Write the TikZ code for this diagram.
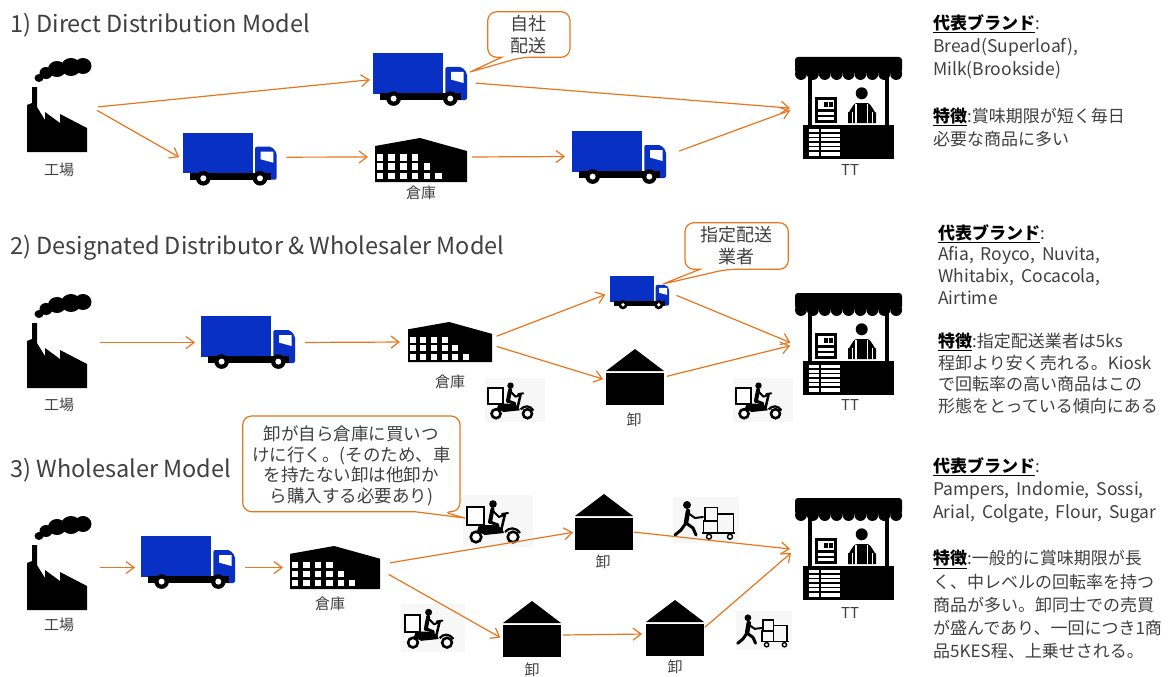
\documentclass[tikz,border=0pt]{standalone}
\usepackage{fontspec}
\setmainfont{Noto Sans CJK JP}
\usetikzlibrary{arrows.meta}
\definecolor{orangeline}{RGB}{232,118,30}
\definecolor{truckblue}{RGB}{8,48,196}
\definecolor{txt}{RGB}{64,64,64}
% Latin-only lines of the notes: a touch larger, with wider word spaces
\newcommand{\latline}[1]{{\fontsize{17.5}{21}\selectfont\spaceskip=0.4em plus 0.1em\relax #1}}

\tikzset{
  % factory with smoking chimney
  factory/.pic={
    \fill (12,21) ellipse (4.5 and 4);
    \fill (19,16) ellipse (6.5 and 6);
    \fill (30,12) ellipse (9 and 8);
    \fill (44,10) ellipse (10 and 9);
    \fill (56,9) ellipse (8.5 and 8);
    \fill (0,48) -- (5,46) -- (5,30) -- (10,30) -- (10,50) -- (18,63) -- (18,55)
          -- (33,66) -- (33,57) -- (60,71) -- (60,95) -- (0,95) -- cycle;
  },
  % blue box truck
  truck/.pic={
    \fill[truckblue] (0,0) rectangle (70,40.6);
    \fill[truckblue, rounded corners=2pt] (72.3,14) -- (89,14) -- (94,20) -- (94,47) -- (72.3,47) -- cycle;
    \fill[white] (78,19) -- (90.6,19) -- (90.6,30) -- (78,26.6) -- cycle;
    \fill (7,40) rectangle (88,47);
    \foreach \wx in {20.6,77.3} {
      \fill (\wx,45.6) circle (7.3);
      \fill[white] (\wx,45.6) circle (3);
    }
  },
  % warehouse with window grid
  warehouse/.pic={
    \fill (0,8) -- (45,0) -- (92,13) -- (92,44) -- (0,44) -- cycle;
    \foreach \r/\n in {0/4,1/5,2/6}
      \foreach \c in {1,...,\n}
        \fill[white] ({1.7+11.7*(\c-1)},{16+9.3*\r}) rectangle +(6.6,6.6);
  },
  % wholesaler house
  house/.pic={
    \fill (0,22) -- (29,0) -- (58,22) -- cycle;
    \fill (0,24) rectangle (58,56);
  },
  % kiosk stall with shopkeeper
  kiosk/.pic={
    \fill[rounded corners=3pt] (0,0) rectangle (107,16);
    \foreach \i in {0,...,8} \fill ({5.95+11.9*\i},17) circle (5.95);
    \fill (13,20) rectangle (17,68);
    \fill (90,20) rectangle (94,68);
    \fill (8,68) rectangle (99,102);
    \fill[white] (14,71.5) rectangle (45,98.5);
    \foreach \yy in {75,79.5,84,88.5,93} \fill (14,\yy) rectangle (45,\yy+1.8);
    \fill (24,71.5) rectangle (25.5,98.5);
    \fill (20,40) rectangle (42,66);
    \fill[white] (23,43) rectangle (39,52);
    \fill (29,45) rectangle (32.5,50);
    \fill (34,45) rectangle (37.5,50);
    \fill[white] (23,55) rectangle (39,57.5);
    \fill[white] (23,60) rectangle (39,63);
    \fill (66.7,36.3) circle (6);
    \fill (53,66) -- (53,55) to[out=-90,in=180] (62,46) -- (72,46) to[out=0,in=-90] (81,55) -- (81,66) -- cycle;
    \draw[white, line width=1.2pt] (61,47) -- (61,66) (72.5,47) -- (72.5,66);
    \draw[white, line width=0.8pt] (57,55) -- (57,66) (77,55) -- (77,66);
  },
  % delivery motorbike
  motorbike/.pic={
    \fill[gray!6] (0,0) rectangle (70,52);
    \draw[line width=2pt, fill=white] (4,12) rectangle (21,30);
    \fill (30,9) circle (3.8);
    \draw[line width=4pt, line cap=round] (29.5,14) -- (27,27);
    \draw[line width=2pt, line cap=round, line join=round] (30,16) -- (36,22) -- (41,20);
    \draw[line width=3pt, line cap=round, line join=round] (27,27) -- (35,30) -- (34,37);
    \fill (16,30) -- (31,30) -- (39,33) -- (41,38) -- (22,40) -- (14,36) -- cycle;
    \draw[line width=2.5pt] (38,36) -- (42,19);
    \draw[line width=2pt, line cap=round] (39,19) -- (45,18);
    \draw[line width=2.2pt] (42,37) .. controls (46,32) and (53,32) .. (57,38);
    \draw[line width=2.6pt, fill=white] (13,42) circle (5.3);
    \draw[line width=2.6pt, fill=white] (50,42) circle (5.3);
  },
  % person pushing a hand cart
  cart/.pic={
    \fill[gray!6] (0,0) rectangle (66,46);
    \fill (14,8) circle (4);
    \draw[line width=4.5pt, line cap=round] (15,14) -- (13,26);
    \draw[line width=3pt, line cap=round, line join=round] (13,26) -- (8,33) -- (2,38);
    \draw[line width=3pt, line cap=round, line join=round] (13,26) -- (20,31) -- (23,38);
    \draw[line width=2pt, line cap=round, line join=round] (15,16) -- (22,21) -- (30,20);
    \draw[line width=1.6pt] (32,10.3) rectangle (44.3,23.7);
    \draw[line width=1.6pt] (30.3,23.7) rectangle (44.3,35.7);
    \draw[line width=1.6pt] (44.3,17) rectangle (60.3,35.7);
    \draw[line width=1.6pt] (29,36) -- (62,36);
    \draw[line width=1.4pt, fill=white] (36,39.7) circle (2.5);
    \draw[line width=1.4pt, fill=white] (57,39.7) circle (2.5);
  },
}

\begin{document}
\begin{tikzpicture}[x=1pt, y=-1pt,
  slot/.style={inner sep=0pt, outer sep=0pt, anchor=north west},
  arr/.style={draw=orangeline, line width=1.2pt, -{Straight Barb[length=8pt,width=12pt]}},
  lbl/.style={inner sep=0pt, text=txt, font=\fontsize{15}{18}\selectfont},
  ttl/.style={inner sep=0pt, anchor=base west, text=txt, font=\fontsize{23.5}{28}\selectfont},
  note/.style={inner sep=0pt, anchor=north west, align=left, text=txt},
  callout/.style={draw=orangeline, line width=1.2pt, fill=white, rounded corners=9pt},
  ctext/.style={inner sep=0pt, align=center, text=txt},
]
\useasboundingbox (0,0) rectangle (1175,677);
\fill[white] (0,0) rectangle (1175,677);

% ---------- section titles ----------
\node[ttl] (r1) at (10,33) {1) Direct Distribution Model};
\node[ttl] (r2) at (10,254) {2) Designated Distributor \& Wholesaler Model};
\node[ttl] (r3) at (10,477) {3) Wholesaler Model};

% ---------- row 1: direct distribution ----------
\node[slot, minimum width=65pt, minimum height=95pt] (f1) at (27,57) {};
\pic at (f1.north west) {factory};
\node[lbl] (lf1) at (59,170) {工場};
\node[slot, minimum width=95pt, minimum height=53pt] (t1a) at (373,53) {};
\pic at (t1a.north west) {truck};
\node[slot, minimum width=95pt, minimum height=53pt] (t1b) at (182.7,132.7) {};
\pic at (t1b.north west) {truck};
\node[slot, minimum width=92pt, minimum height=44pt] (w1) at (375,138) {};
\pic at (w1.north west) {warehouse};
\node[lbl] (lw1) at (421,193) {倉庫};
\node[slot, minimum width=95pt, minimum height=53pt] (t1c) at (572,131) {};
\pic at (t1c.north west) {truck};
\node[slot, minimum width=107pt, minimum height=103pt] (k1) at (795,57) {};
\pic at (k1.north west) {kiosk};
\node[lbl] (lk1) at (850,170) {TT};

\draw[arr, shorten <=6pt, shorten >=3pt] ([shift={(0,3)}]f1.east) -- (t1a.west);
\draw[arr, shorten <=6pt, shorten >=4pt] ([shift={(0,3)}]f1.east) -- (t1b.west);
\draw[arr, shorten <=8pt, shorten >=5pt] ([shift={(0,3)}]t1a.east) -- (k1.west);
\draw[arr, shorten <=9pt, shorten >=7pt] ([shift={(0,-2)}]t1b.east) -- ([shift={(0,-3)}]w1.west);
\draw[arr, shorten <=5pt, shorten >=7pt] ([shift={(0,-3)}]w1.east) -- ([shift={(0,-1)}]t1c.west);
\draw[arr, shorten <=13pt, shorten >=5pt] ([shift={(0,-2)}]t1c.east) -- (k1.west);

% callout: own delivery
\node[slot, minimum width=82.3pt, minimum height=45.6pt] (c1) at (487.7,11.7) {};
\draw[callout] ([shift={(14,0)}]c1.south west) -- (c1.south west) -- (c1.north west)
  -- (c1.north east) -- (c1.south east) -- ([shift={(34,0)}]c1.south west)
  [sharp corners] -- ([shift={(2,19)}]t1a.north east) -- cycle;
\node[ctext, font=\fontsize{18}{22.7}\selectfont] (c1t) at (c1.center) {自社\\配送};

% ---------- row 2: designated distributor & wholesaler ----------
\node[slot, minimum width=65pt, minimum height=95pt] (f2) at (27,293) {};
\pic at (f2.north west) {factory};
\node[lbl] (lf2) at (59,405) {工場};
\node[slot, minimum width=95pt, minimum height=53pt] (t2a) at (201,316) {};
\pic at (t2a.north west) {truck};
\node[slot, minimum width=84pt, minimum height=40pt] (w2) at (408,322) {};
\pic[scale=0.913] at (w2.north west) {warehouse};
\node[lbl] (lw2) at (450,382) {倉庫};
\node[slot, minimum width=60pt, minimum height=33.4pt] (t2b) at (610,276) {};
\pic[scale=0.63] at (t2b.north west) {truck};
\node[slot, minimum width=60pt, minimum height=44pt] (m2a) at (485,378) {};
\pic[scale=0.85] at (m2a.north west) {motorbike};
\node[slot, minimum width=58pt, minimum height=56pt] (h2) at (606,349) {};
\pic at (h2.north west) {house};
\node[lbl] (lh2) at (634,420) {卸};
\node[slot, minimum width=60pt, minimum height=44pt] (m2b) at (733,378) {};
\pic[scale=0.85] at (m2b.north west) {motorbike};
\node[slot, minimum width=107pt, minimum height=103pt] (k2) at (795,293) {};
\pic at (k2.north west) {kiosk};
\node[lbl] (lk2) at (850,405) {TT};

\draw[arr, shorten <=8pt, shorten >=6pt] ([shift={(0,2)}]f2.east) -- (t2a.west);
\draw[arr, shorten <=9pt, shorten >=8pt] (t2a.east) -- (w2.west);
\draw[arr, shorten <=5pt, shorten >=5pt] ([shift={(0,-4)}]w2.east) -- (t2b.west);
\draw[arr, shorten <=5pt, shorten >=3pt] ([shift={(0,3)}]w2.east) -- ([shift={(0,3)}]h2.west);
\draw[arr, shorten <=7pt, shorten >=5pt] (t2b.east) -- (k2.west);
\draw[arr, shorten <=3pt, shorten >=5pt] (h2.east) -- (k2.west);

% callout: designated carrier
\node[slot, minimum width=103.3pt, minimum height=46.6pt] (c2) at (685,222.7) {};
\draw[callout] ([shift={(15,0)}]c2.south west) -- (c2.south west) -- (c2.north west)
  -- (c2.north east) -- (c2.south east) -- ([shift={(41.7,0)}]c2.south west)
  [sharp corners] -- ([shift={(-7,8)}]t2b.north east) -- cycle;
\node[ctext, font=\fontsize{18}{21.7}\selectfont] (c2t) at (c2.center) {指定配送\\業者};

% ---------- row 3: wholesaler ----------
\node[slot, minimum width=65pt, minimum height=95pt] (f3) at (27,515) {};
\pic at (f3.north west) {factory};
\node[lbl] (lf3) at (59,625) {工場};
\node[slot, minimum width=95pt, minimum height=53pt] (t3) at (141,536) {};
\pic at (t3.north west) {truck};
\node[slot, minimum width=90pt, minimum height=43pt] (w3) at (290,546) {};
\pic[scale=0.98] at (w3.north west) {warehouse};
\node[lbl] (lw3) at (330,604) {倉庫};
\node[slot, minimum width=70pt, minimum height=52pt] (m3a) at (463,495) {};
\pic at (m3a.north west) {motorbike};
\node[slot, minimum width=58pt, minimum height=56pt] (h3a) at (575,494) {};
\pic at (h3a.north west) {house};
\node[lbl] (lh3a) at (603,562) {卸};
\node[slot, minimum width=66pt, minimum height=46pt] (p3a) at (673,497) {};
\pic at (p3a.north west) {cart};
\node[slot, minimum width=64pt, minimum height=48pt] (m3b) at (401,604) {};
\pic[scale=0.92] at (m3b.north west) {motorbike};
\node[slot, minimum width=58pt, minimum height=56pt] (h3b) at (503,601) {};
\pic at (h3b.north west) {house};
\node[lbl] (lh3b) at (532,670) {卸};
\node[slot, minimum width=58pt, minimum height=56pt] (h3c) at (646,600) {};
\pic at (h3c.north west) {house};
\node[lbl] (lh3c) at (675,667) {卸};
\node[slot, minimum width=56pt, minimum height=39pt] (p3b) at (736,611) {};
\pic[scale=0.85] at (p3b.north west) {cart};
\node[slot, minimum width=107pt, minimum height=103pt] (k3) at (795,498) {};
\pic at (k3.north west) {kiosk};
\node[lbl] (lk3) at (850,613) {TT};

\draw[arr, shorten <=8pt, shorten >=6pt] ([shift={(0,5)}]f3.east) -- ([shift={(0,5)}]t3.west);
\draw[arr, shorten <=9pt, shorten >=7pt] ([shift={(0,5)}]t3.east) -- (w3.west);
\draw[arr, shorten <=10pt, shorten >=2pt] ([shift={(0,-3)}]w3.east) -- ([shift={(0,10)}]h3a.west);
\draw[arr, shorten <=10pt, shorten >=3pt] ([shift={(0,2)}]w3.east) -- ([shift={(0,10)}]h3b.west);
\draw[arr, shorten <=2pt, shorten >=4pt] ([shift={(0,6)}]h3b.east) -- ([shift={(0,6)}]h3c.west);
\draw[arr, shorten <=1pt, shorten >=5pt] (h3c.east) -- (k3.west);
\draw[arr, shorten <=1pt, shorten >=5pt] ([shift={(0,10)}]h3a.east) -- (k3.west);

% callout: wholesalers collect from the warehouse
\node[slot, minimum width=217.3pt, minimum height=95.7pt] (c3) at (242.7,416) {};
\draw[callout] ([shift={(172,0)}]c3.south west) -- (c3.south west) -- (c3.north west)
  -- (c3.north east) -- (c3.south east) -- ([shift={(200,0)}]c3.south west)
  [sharp corners] -- ([shift={(2,23)}]m3a.north west) -- cycle;
\node[ctext, font=\fontsize{17.5}{20.8}\selectfont] (c3t) at ([shift={(0,2)}]c3.center)
  {卸が自ら倉庫に買いつ\\けに行く。(そのため、車\\を持たない卸は他卸か\\ら購入する必要あり)};

% ---------- notes on the right ----------
\node[note, font=\fontsize{17}{23.3}\selectfont] (n1) at (933,14)
  {{\color{black}\underline{\textbf{代表ブランド}}}:\\
   \latline{Bread(Superloaf),}\\
   \latline{Milk(Brookside)}\\[23.3pt]
   {\color{black}\underline{\textbf{特徴}}}:賞味期限が短く毎日\\
   必要な商品に多い};

\node[note, font=\fontsize{17}{21.7}\selectfont] (n2) at (938,224)
  {{\color{black}\underline{\textbf{代表ブランド}}}:\\
   \latline{Afia, Royco, Nuvita,}\\
   \latline{Whitabix, Cocacola,}\\
   \latline{Airtime}\\[21.7pt]
   {\color{black}\underline{\textbf{特徴}}}:指定配送業者は5ks\\
   程卸より安く売れる。Kiosk\\
   で回転率の高い商品はこの\\
   形態をとっている傾向にある};

\node[note, font=\fontsize{17}{23.2}\selectfont] (n3) at (933,457)
  {{\color{black}\underline{\textbf{代表ブランド}}}:\\
   \latline{Pampers, Indomie, Sossi,}\\
   \latline{Arial, Colgate, Flour, Sugar}\\[23.2pt]
   {\color{black}\underline{\textbf{特徴}}}:一般的に賞味期限が長\\
   く、中レベルの回転率を持つ\\
   商品が多い。卸同士での売買\\
   が盛んであり、一回につき1商\\
   品5KES程、上乗せされる。};
\end{tikzpicture}
\end{document}
